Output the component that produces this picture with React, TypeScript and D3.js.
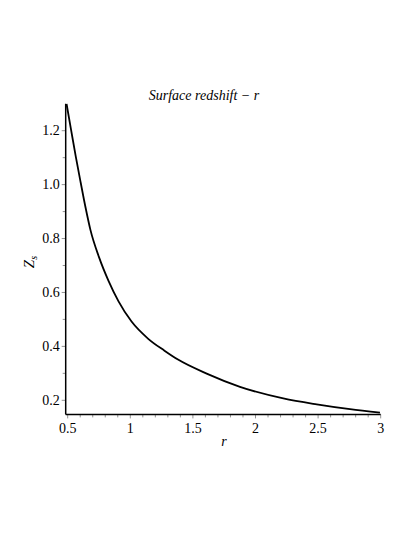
import { useEffect, useRef } from "react";
import * as d3 from "d3";

// values
const rValues = [0.491, 0.527, 0.565, 0.604, 0.643, 0.681, 0.75, 0.826, 0.906, 1.01, 1.141, 1.273, 1.381, 1.61, 1.876, 2.222, 2.489, 2.755, 2.994];
const zValues = [1.299, 1.203, 1.103, 1.007, 0.914, 0.833, 0.731, 0.643, 0.567, 0.492, 0.429, 0.384, 0.351, 0.299, 0.25, 0.207, 0.185, 0.167, 0.154];

const xTickLabels = ["0.5", "1", "1.5", "2", "2.5", "3"];
const yTickLabels = ["0.2", "0.4", "0.6", "0.8", "1.0", "1.2"];

const title = "Surface redshift \u2212 r";

export default function App() {
  const svgRef = useRef<SVGSVGElement | null>(null);

  useEffect(() => {
    const svg = d3.select(svgRef.current);
    svg.selectAll("*").remove();

    const x = d3.scaleLinear().domain([0.5, 3]).range([67.7, 380.7]);
    const y = d3.scaleLinear().domain([0.2, 1.2]).range([400.3, 130.7]);
    const xMin = 0.484, yMin = 0.1477, yMax = 1.3;
    const font = "Liberation Serif, Times New Roman, serif";

    const x0 = x(xMin), y0 = y(yMin);

    // minor ticks
    const xTicks = d3.range(5, 31).map(d => d / 10);
    const yTicks = d3.range(2, 13).map(d => d / 10);

    svg.append("g").selectAll("line")
      .data(xTicks).enter().append("line")
      .attr("x1", d => x(d)).attr("x2", d => x(d))
      .attr("y1", y0).attr("y2", d => y0 + (Math.round(d * 10) % 5 === 0 ? 4 : 3))
      .attr("stroke", "#777").attr("stroke-width", 0.8);

    svg.append("g").selectAll("line")
      .data(yTicks).enter().append("line")
      .attr("y1", d => y(d)).attr("y2", d => y(d))
      .attr("x1", x0).attr("x2", d => x0 - (Math.round(d * 10) % 2 === 0 ? 4 : 3))
      .attr("stroke", "#777").attr("stroke-width", 0.8);

    // axes lines
    svg.append("line")
      .attr("x1", x0).attr("x2", x0).attr("y1", y(yMax)).attr("y2", y0)
      .attr("stroke", "#000").attr("stroke-width", 1.5);
    svg.append("line")
      .attr("x1", x0).attr("x2", x(3)).attr("y1", y0).attr("y2", y0)
      .attr("stroke", "#000").attr("stroke-width", 1.5);

    // tick labels
    svg.append("g").selectAll("text")
      .data(xTickLabels).enter().append("text")
      .attr("x", d => x(+d)).attr("y", y0 + 19)
      .attr("text-anchor", "middle")
      .style("font-family", font).style("font-size", "14px")
      .text(d => d);

    svg.append("g").selectAll("text")
      .data(yTickLabels).enter().append("text")
      .attr("x", x0 - 6).attr("y", d => y(+d) + 4.5)
      .attr("text-anchor", "end")
      .style("font-family", font).style("font-size", "14px")
      .text(d => d);

    // curve
    const pts = rValues.map((r, i) => [r, zValues[i]] as [number, number]);
    const line = d3.line<[number, number]>()
      .x(d => x(d[0]))
      .y(d => y(d[1]))
      .curve(d3.curveMonotoneX);
    svg.append("path")
      .attr("d", line(pts) ?? "")
      .attr("fill", "none")
      .attr("stroke", "#000")
      .attr("stroke-width", 1.8);

    // title and axis labels
    svg.append("text")
      .attr("x", 204).attr("y", 100)
      .attr("text-anchor", "middle")
      .style("font-family", font).style("font-size", "14px").style("font-style", "italic")
      .text(title);

    svg.append("text")
      .attr("x", 224).attr("y", 446)
      .attr("text-anchor", "middle")
      .style("font-family", font).style("font-size", "14px").style("font-style", "italic")
      .text("r");

    const zl = svg.append("text")
      .attr("transform", "translate(34,262) rotate(-90)")
      .attr("text-anchor", "middle")
      .style("font-family", font).style("font-size", "15px").style("font-style", "italic");
    zl.append("tspan").text("Z");
    zl.append("tspan").style("font-size", "10px").attr("dy", 3).text("s");
  }, []);

  return (
    <svg
      ref={svgRef}
      width={415}
      height={537}
      style={{ position: "absolute", left: 0, top: 0, background: "#fff" }}
    />
  );
}
